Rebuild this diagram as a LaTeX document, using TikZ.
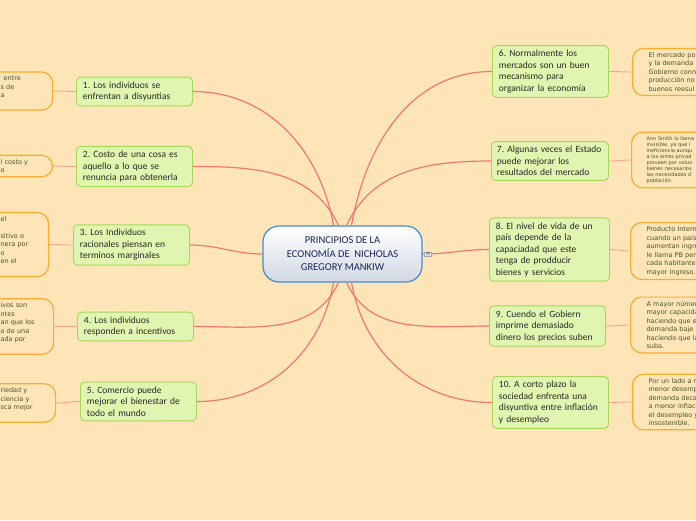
\documentclass[tikz,border=0pt]{standalone}
\usepackage{fontspec}
\setmainfont{Carlito}
\newfontfamily\notefont{DejaVu Sans}
\usetikzlibrary{shapes,arrows,calc}
\frenchspacing

\definecolor{mapbg}{RGB}{253,229,183}
\definecolor{topicfill}{RGB}{224,245,176}
\definecolor{topicline}{RGB}{168,214,92}
\definecolor{topictext}{RGB}{40,40,40}
\definecolor{centerline}{RGB}{70,140,200}
\definecolor{centerbot}{RGB}{208,216,226}
\definecolor{centertext}{RGB}{25,38,88}
\definecolor{noteline}{RGB}{250,172,50}
\definecolor{notetext}{RGB}{70,85,40}
\definecolor{linkred}{RGB}{240,120,115}
\definecolor{linkpink}{RGB}{244,165,145}

\begin{document}
\begin{tikzpicture}[
    x=1pt, y=-1pt,
    central/.style={rectangle, draw=centerline, line width=1.2pt, top color=white, bottom color=centerbot, rounded corners=16pt, minimum width=159pt, minimum height=56pt, align=center, text=centertext, font=\fontsize{10.5}{13.5}\selectfont},
    topic/.style={rectangle, draw=topicline, fill=topicfill, line width=0.9pt, rounded corners=4pt, text width=103pt, align=left, inner xsep=6.5pt, inner ysep=4.5pt, text=topictext, font=\fontsize{9.5}{11.5}\selectfont},
    leftnote/.style={rectangle, draw=noteline, fill=mapbg, line width=1.2pt, rounded corners=11pt, align=left, inner xsep=15pt, inner ysep=4pt, text=notetext, font=\notefont\fontsize{6.5}{8.5}\selectfont},
    rightnote/.style={leftnote, text width=100pt, inner xsep=16pt},
    link/.style={draw=linkred, line width=1.2pt},
    notelink/.style={draw=linkpink, line width=0.9pt}
]
\useasboundingbox (0,0) rectangle (696,520);
\fill[mapbg] (0,0) rectangle (696,520);

% Central idea
\node[central] (center) at (342.5,254) {PRINCIPIOS DE LA\\ECONOMÍA DE~ NICHOLAS\\GREGORY MANKIW};

% Left topics
\node[topic, anchor=west] (t1) at (76,91.5) {1. Los individuos se\\enfrentan a disyuntias};
\node[topic, anchor=west] (t2) at (76,166.5) {2. Costo de una cosa es\\aquello a lo que se\\renuncia para obtenerla};
\node[topic, anchor=west] (t3) at (73,245) {3. Los Individuos\\racionales piensan en\\terminos marginales};
\node[topic, anchor=west] (t4) at (77,326.5) {4. Los individuos\\responden a incentivos};
\node[topic, anchor=west] (t5) at (80,401.5) {5. Comercio puede\\mejorar el bienestar de\\todo el mundo};

% Right topics
\node[topic, anchor=west] (t6) at (492,71.5) {6. Normalmente los\\mercados son un buen\\mecanismo para\\organizar la economía};
\node[topic, anchor=west, text width=106pt, inner xsep=5.5pt] (t7) at (491,161) {7. Algunas veces el Estado\\puede mejorar los\\resultados del mercado};
\node[topic, anchor=west, text width=107pt] (t8) at (489,249.5) {8. El nivel de vida de un\\país depende de la\\capaciadad que este\\tenga de prodducir\\bienes y servicios};
\node[topic, anchor=west] (t9) at (489,326) {9. Cuendo el Gobiern\\imprime demasiado\\dinero los precios suben};
\node[topic, anchor=west] (t10) at (492,402.5) {10. A corto plazo la\\sociedad enfrenta una\\disyuntiva entre inflación\\y desempleo};

% Left notes (cut by the page edge)
\node[leftnote, anchor=west, text width=37pt] (n1) at (-15,91) {\hspace{3pt}entre\\s de\\a\\\mbox{}};
\node[leftnote, anchor=west, text width=37pt] (n2) at (-15,166) {l costo y\\o};
\node[leftnote, anchor=west, text width=33pt] (n3) at (-15,244.5) {el\\\mbox{}\\sitivo o\\nera por\\o\\en el\\\mbox{}};
\node[leftnote, anchor=west, text width=38pt] (n4) at (-15,326.5) {ivos son\\ntes\\an que los\\o de una\\ada por\\\mbox{}};
\node[leftnote, anchor=west, text width=40pt] (n5) at (-15,403) {riedad y\\ciencia y\\sca mejor\\\mbox{}};

% Right notes (cut by the page edge)
\node[rightnote, anchor=west] (n6) at (632,72) {El mercado po\\y la demanda\\Gobierno conn\\producción no\\buenos reesul};
\node[rightnote, anchor=west, font=\notefont\fontsize{5}{6.1}\selectfont, inner xsep=15pt] (n7) at (631,160) {Ann Smith lo llama\\invisible, ya que i\\ineficiencia aunqu\\a los entes privad\\proveen por volun\\bienes necesarios\\las necesidades d\\población.};
\node[rightnote, anchor=west] (n8) at (630,251) {Producto Intern\\cuando un país\\aumentan ingre\\le llama PB pero\\cada habitante\\mayor ingreso.};
\node[rightnote, anchor=west] (n9) at (630,325) {A mayor númer\\mayor capacida\\haciendo que el\\demanda baje l\\haciendo que la\\suba.};
\node[rightnote, anchor=west] (n10) at (632,402) {Por un lado a m\\menor desemp\\demanda decae\\a menor infiaco\\el desempleo y\\insostenible.};

% Branches
\draw[link] ([xshift=-9pt]center.north) to[out=100, in=0] (t1.east);
\draw[link] ([xshift=-4pt]center.north) to[out=115, in=0] (t2.east);
\draw[link] (center.west) to[out=180, in=0] (t3.east);
\draw[link] ([xshift=-4pt]center.south) to[out=-115, in=0] (t4.east);
\draw[link] ([xshift=-9pt]center.south) to[out=-100, in=0] (t5.east);
\draw[link] ([xshift=9pt]center.north) to[out=80, in=180] (t6.west);
\draw[link] ([xshift=4pt]center.north) to[out=65, in=180] (t7.west);
\draw[link] (center.east) to[out=0, in=180] (t8.west);
\draw[link] ([xshift=4pt]center.south) to[out=-65, in=180] (t9.west);
\draw[link] ([xshift=9pt]center.south) to[out=-80, in=180] (t10.west);

% Notes
\foreach \t/\n in {t1/n1, t2/n2, t3/n3, t4/n4, t5/n5}
    \draw[notelink] (\t.west) to[out=180, in=0] (\n.east);
\foreach \t/\n in {t6/n6, t7/n7, t8/n8, t9/n9, t10/n10}
    \draw[notelink] (\t.east) to[out=0, in=180] (\n.west);

% Note icon
\node[draw=gray!70, fill=gray!15, inner sep=0.8pt, font=\tiny] (icon) at (428,254) {$\equiv$};

\end{tikzpicture}
\end{document}
